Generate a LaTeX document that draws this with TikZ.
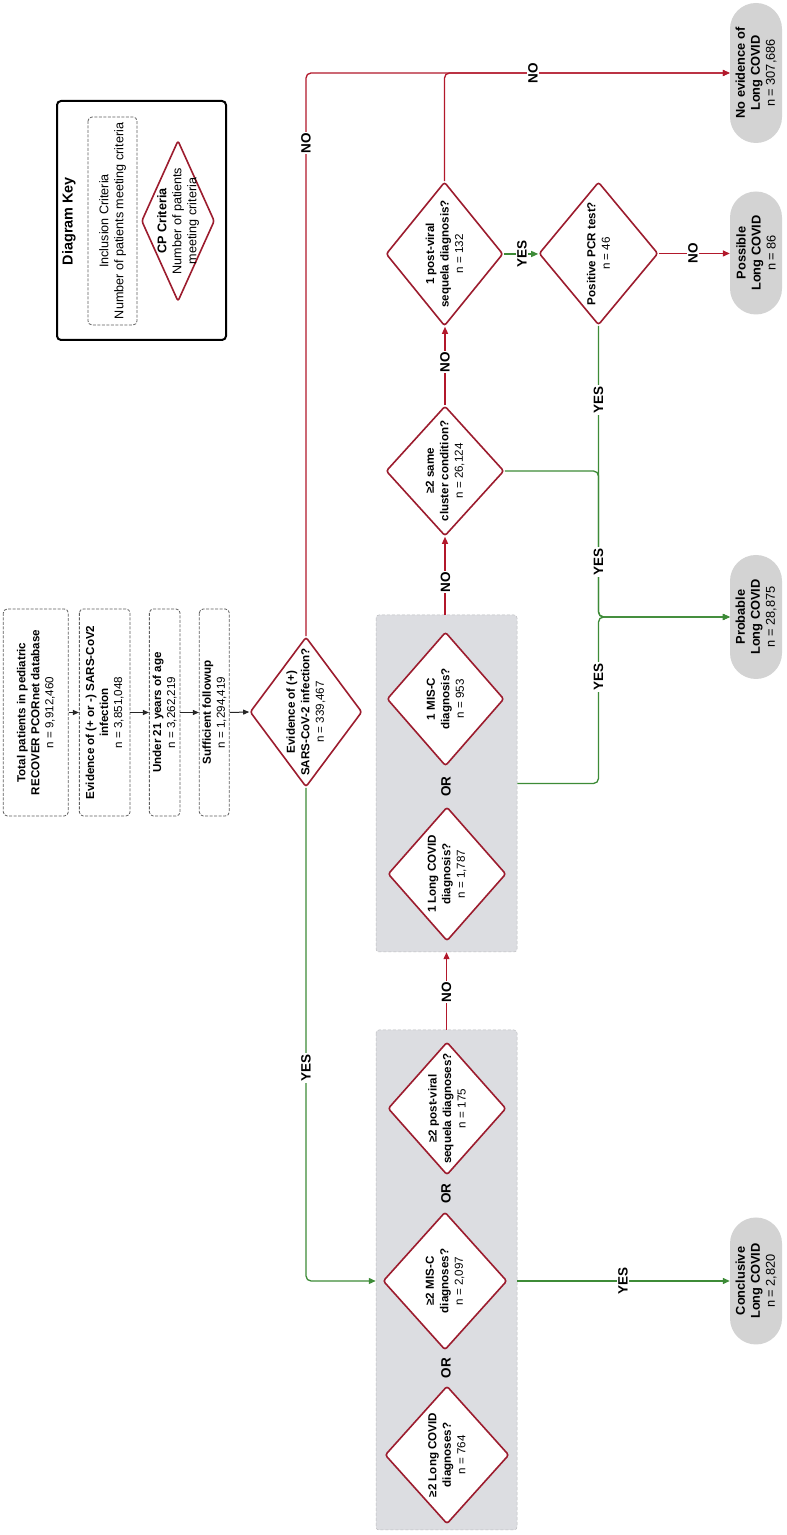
\documentclass[tikz,border=0pt]{standalone}
\usepackage{fontspec}
\setmainfont{Liberation Sans}
\usetikzlibrary{shapes.geometric,arrows.meta,calc}
\definecolor{redl}{HTML}{B2182B}
\definecolor{diared}{HTML}{9C1C2E}
\definecolor{greenl}{HTML}{3D8B37}
\definecolor{grpgray}{HTML}{DCDDE1}
\definecolor{pillgray}{HTML}{D3D3D3}
\definecolor{incgray}{HTML}{606060}
\begin{document}
\begin{tikzpicture}[x=1pt,y=1pt,rotate=90,transform shape,
  incl/.style={draw=incgray, dash pattern=on 3pt off 1.5pt, rounded corners=4pt, line width=0.8pt, fill=white, inner sep=0pt},
  dia/.style={diamond, draw=diared, line width=1.6pt, fill=white, inner sep=0pt, rounded corners=2.5pt},
  pill/.style={fill=pillgray, rounded corners=26pt, inner sep=0pt, minimum height=52pt},
  grp/.style={fill=grpgray, draw=grpgray!85!black, dash pattern=on 3pt off 2pt, line width=0.5pt, rounded corners=3pt, inner sep=0pt},
  txt/.style={align=center, font=\fontsize{11.6}{14.5}\selectfont, inner sep=0pt},
  ptxt/.style={align=center, font=\fontsize{12.8}{15}\selectfont, inner sep=0pt},
  btxt/.style={align=center, font=\fontsize{11.6}{14}\selectfont, inner sep=0pt},
  ktxt/.style={align=center, font=\fontsize{12.6}{15}\selectfont, inner sep=0pt},
  lab/.style={font=\fontsize{13.5}{16}\selectfont\bfseries, fill=white, inner sep=1.2pt},
  orlab/.style={font=\fontsize{13.5}{16}\selectfont\bfseries, inner sep=1pt},
  rline/.style={draw=redl, line width=1.3pt, rounded corners=5pt, -{Triangle[length=7pt,width=6pt]}},
  gline/.style={draw=greenl, line width=1.3pt, rounded corners=5pt, -{Triangle[length=7pt,width=6pt]}},
  kline/.style={draw=black!85, line width=1pt, -{Triangle[length=6pt,width=5pt]}}
]
\fill[white] (0,0) rectangle (1535,-787);
\useasboundingbox (0,0) rectangle (1535,-787);

% ---------- Diagram key ----------
\node[draw=black, line width=2pt, rounded corners=4pt, minimum width=239pt, minimum height=169pt, inner sep=0pt] (key) at (1314.5,-141.5) {};
\node[font=\fontsize{14.4}{16}\selectfont\bfseries, inner sep=0pt] (keyt) at (1314,-69) {Diagram Key};
\node[incl, minimum width=208pt, minimum height=49pt] (keyinc) at (1314,-112.5) {};
\node[ktxt] (keyinct) at (keyinc) {Inclusion Criteria\\Number of patients meeting criteria};
\node[dia, minimum width=161pt, minimum height=73pt] (keydia) at (1314,-178) {};
\node[ktxt] (keydiat) at (keydia) {\textbf{CP Criteria}\\Number of patients\\meeting criteria};

% ---------- Inclusion boxes ----------
\node[incl, minimum width=207pt, minimum height=65pt] (b1) at (822.5,-35.8) {};
\node[btxt] (b1t) at (b1) {\textbf{Total patients in pediatric}\\\textbf{RECOVER PCORnet database}\\n = 9,912,460};
\node[incl, minimum width=207pt, minimum height=50.7pt] (b2) at (822.5,-104.7) {};
\node[btxt] (b2t) at (b2) {\textbf{Evidence of (+ or -) SARS-CoV2}\\\textbf{infection}\\n = 3,851,048};
\node[incl, minimum width=207pt, minimum height=30.7pt] (b3) at (822.5,-164.7) {};
\node[btxt] (b3t) at (b3) {\textbf{Under 21 years of age}\\n = 3,262,219};
\node[incl, minimum width=207pt, minimum height=30pt] (b4) at (822.5,-214.3) {};
\node[btxt] (b4t) at (b4) {\textbf{Sufficient followup}\\n = 1,294,419};

% ---------- Group boxes ----------
\node[grp, minimum width=337pt, minimum height=141pt] (grpB) at (751.5,-446.5) {};
\node[grp, minimum width=500pt, minimum height=141pt] (grpA) at (255,-446.5) {};

% ---------- Diamonds ----------
\node[dia, minimum width=150pt, minimum height=112pt] (ev) at (823,-306) {};
\node[txt] (evt) at (ev) {\textbf{Evidence of (+)}\\\textbf{SARS-CoV-2 infection?}\\n = 339,467};
\node[dia, minimum width=144pt, minimum height=117pt] (pv1) at (1281,-444.5) {};
\node[txt] (pv1t) at (pv1) {\textbf{1 post-viral}\\\textbf{sequela diagnosis?}\\n = 132};
\node[dia, minimum width=143pt, minimum height=119pt] (pcr) at (1281.5,-598.5) {};
\node[txt] (pcrt) at (pcr) {\textbf{Positive PCR test?}\\n = 46};
\node[dia, minimum width=130pt, minimum height=118pt] (clus) at (1064,-445) {};
\node[txt] (clust) at (clus) {\textbf{≥2 same}\\\textbf{cluster condition?}\\n = 26,124};
\node[dia, minimum width=134pt, minimum height=117pt] (mis1) at (836,-445.5) {};
\node[txt] (mis1t) at (mis1) {\textbf{1 MIS-C}\\\textbf{diagnosis?}\\n = 953};
\node[dia, minimum width=134pt, minimum height=118pt] (lc1) at (661,-447) {};
\node[txt] (lc1t) at (lc1) {\textbf{1 Long COVID}\\\textbf{diagnosis?}\\n = 1,787};
\node[dia, minimum width=133pt, minimum height=118pt] (pv2) at (426.5,-447) {};
\node[txt] (pv2t) at (pv2) {\textbf{≥2 post-viral}\\\textbf{sequela diagnoses?}\\n = 175};
\node[dia, minimum width=138pt, minimum height=124pt] (mis2) at (254,-445) {};
\node[txt] (mis2t) at (mis2) {\textbf{≥2 MIS-C}\\\textbf{diagnoses?}\\n = 2,097};
\node[dia, minimum width=138pt, minimum height=124pt] (lc2) at (80,-447) {};
\node[txt] (lc2t) at (lc2) {\textbf{≥2 Long COVID}\\\textbf{diagnoses?}\\n = 764};

\node[orlab] (or1) at (748.5,-446) {OR};
\node[orlab] (or2) at (341.5,-446) {OR};
\node[orlab] (or3) at (167,-446) {OR};

% ---------- Outcome pills ----------
\node[pill, minimum width=140pt] (noev) at (1462,-756) {};
\node[ptxt] (noevt) at (noev) {\textbf{No evidence of}\\\textbf{Long COVID}\\n = 307,686};
\node[pill, minimum width=123pt] (poss) at (1282,-756) {};
\node[ptxt] (posst) at (poss) {\textbf{Possible}\\\textbf{Long COVID}\\n = 86};
\node[pill, minimum width=124pt] (prob) at (918,-756) {};
\node[ptxt] (probt) at (prob) {\textbf{Probable}\\\textbf{Long COVID}\\n = 28,875};
\node[pill, minimum width=127pt] (concl) at (254,-756) {};
\node[ptxt] (conclt) at (concl) {\textbf{Conclusive}\\\textbf{Long COVID}\\n = 2,820};

% ---------- Connectors ----------
\draw[kline] (b1.south) -- (b2.north);
\draw[kline] (b2.south) -- (b3.north);
\draw[kline] (b3.south) -- (b4.north);
\draw[kline] (b4.south) -- (ev.north);

\draw[rline] (ev.east) -| (noev.north);
\draw[rline] (pv1.east) -| (noev.north);
\draw[gline] (pv1.south) -- (pv1.south |- pcr.north);
\draw[rline] (pcr.south) -- (pcr.south |- poss.north);
\draw[gline] (pcr.west) -| (prob.north);
\draw[gline] (clus.south) |- (pcr.west -| prob.north) -- (prob.north);
\draw[gline] (grpB.south) |- (pcr.west -| prob.north) -- (prob.north);
\draw[rline] (clus.west -| grpB.east) -- (clus.west);
\draw[rline] (clus.east) -- (clus.east -| pv1.west);
\draw[rline] (grpA.east) -- (grpB.west);
\draw[gline] (ev.west) -| (concl.north |- grpA.north);
\draw[gline] (concl.north |- grpA.south) -- (concl.north);

% ---------- Connector labels ----------
\node[lab] (lno1) at (1392,-306) {NO};
\node[lab] (lno2) at (1462,-533) {NO};
\node[lab] (lyes1) at (1281,-522) {YES};
\node[lab] (lno3) at (1282,-693) {NO};
\node[lab] (lyes2) at (1135,-598.5) {YES};
\node[lab] (lyes3) at (973,-598.5) {YES};
\node[lab] (lyes4) at (858,-598.5) {YES};
\node[lab] (lno4) at (953,-445.5) {NO};
\node[lab] (lno5) at (1173,-445) {NO};
\node[lab] (lno6) at (543,-446.5) {NO};
\node[lab] (lyes5) at (467,-306) {YES};
\node[lab] (lyes6) at (254,-623) {YES};
\end{tikzpicture}
\end{document}
